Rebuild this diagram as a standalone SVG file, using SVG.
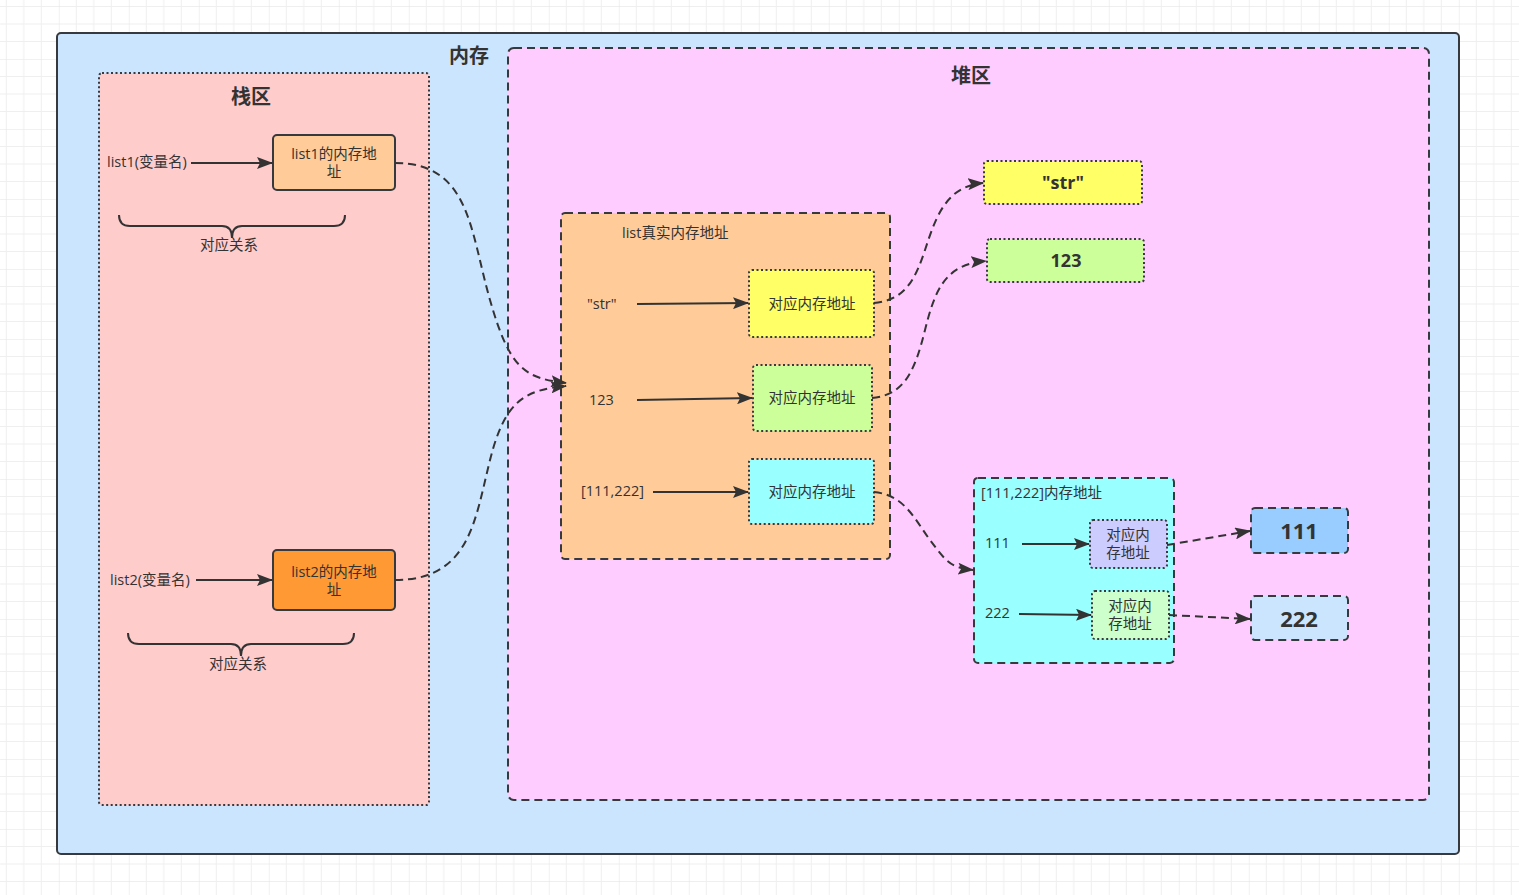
<svg xmlns="http://www.w3.org/2000/svg" width="1519" height="895" viewBox="0 0 1519 895">
<defs>
<pattern id="grid" x="-11.2" y="-11" width="70" height="70" patternUnits="userSpaceOnUse">
<path d="M17.5 0V70M35 0V70M52.5 0V70M0 17.5H70M0 35H70M0 52.5H70" stroke="#efefef" stroke-width="1" fill="none"/>
<path d="M0 0V70M0 0H70" stroke="#e4e4e4" stroke-width="1" fill="none"/>
</pattern>
<marker id="arr" viewBox="0 0 16 12" refX="15" refY="6" markerWidth="16" markerHeight="12" markerUnits="userSpaceOnUse" orient="auto">
<path d="M0 0L16 6L0 12L3 6Z" fill="#333"/>
</marker>
<style>
.t{font-family:"Open Sans","Noto Sans CJK SC",sans-serif;font-size:14.5px;fill:#333}
.c{text-anchor:middle}
.b{font-weight:bold}
.solid{stroke:#36393d;stroke-width:2}
.dash{stroke:#36393d;stroke-width:2;stroke-dasharray:8 5}
.dot{stroke:#36393d;stroke-width:2;stroke-dasharray:2 2.5}
.ln{fill:none;stroke:#333;stroke-width:2}
.dl{fill:none;stroke:#333;stroke-width:2;stroke-dasharray:8 5}
</style>
</defs>
<rect width="1519" height="895" fill="#fff"/>
<rect width="1519" height="895" fill="url(#grid)"/>

<g id="memory">
<rect x="57" y="33" width="1402" height="821" rx="4" fill="#cce5ff" class="solid"/>
<text x="469" y="63" class="t c b" style="font-size:20px">内存</text>
</g>

<g id="stack">
<rect x="99" y="73" width="330" height="732" rx="3" fill="#ffcccc" class="dot"/>
<text x="251" y="104" class="t c b" style="font-size:20px">栈区</text>
</g>

<g id="heap">
<rect x="508" y="48" width="921" height="752" rx="6" fill="#ffccff" class="dash"/>
<text x="971" y="83" class="t c b" style="font-size:20px">堆区</text>
</g>

<g id="list1-label"><text x="107" y="167" class="t">list1(变量名)</text></g>
<g id="list1-addr">
<rect x="273" y="135" width="122" height="55" rx="4" fill="#ffcc99" class="solid"/>
<text x="334" y="159" class="t c">list1的内存地</text>
<text x="334" y="177" class="t c">址</text>
</g>
<g id="brace1">
<path d="M119 215Q119 226 130 226H222Q232 226 232 238Q232 226 242 226H334Q345 226 345 215" class="ln"/>
<text x="229" y="250" class="t c">对应关系</text>
</g>

<g id="list2-label"><text x="110" y="585" class="t">list2(变量名)</text></g>
<g id="list2-addr">
<rect x="273" y="550" width="122" height="60" rx="4" fill="#ff9933" class="solid"/>
<text x="334" y="577" class="t c">list2的内存地</text>
<text x="334" y="595" class="t c">址</text>
</g>
<g id="brace2">
<path d="M128 633Q128 644 139 644H231Q241 644 241 656Q241 644 251 644H343Q354 644 354 633" class="ln"/>
<text x="238" y="669" class="t c">对应关系</text>
</g>

<g id="list-real">
<rect x="561" y="213" width="329" height="346" rx="4" fill="#ffcc99" class="dash"/>
<text x="622" y="238" class="t">list真实内存地址</text>
</g>
<g id="lbl-str"><text x="587" y="309" class="t">"str"</text></g>
<g id="lbl-123"><text x="589" y="405" class="t">123</text></g>
<g id="lbl-list"><text x="581" y="496" class="t">[111,222]</text></g>
<g id="addr-str">
<rect x="749" y="270" width="125" height="67" rx="3" fill="#ffff66" class="dot"/>
<text x="812" y="309" class="t c">对应内存地址</text>
</g>
<g id="addr-123">
<rect x="753" y="365" width="119" height="66" rx="3" fill="#ccff99" class="dot"/>
<text x="812" y="403" class="t c">对应内存地址</text>
</g>
<g id="addr-list">
<rect x="749" y="459" width="125" height="65" rx="3" fill="#99ffff" class="dot"/>
<text x="812" y="497" class="t c">对应内存地址</text>
</g>

<g id="val-str">
<rect x="984" y="161" width="158" height="43" rx="3" fill="#ffff66" class="dot"/>
<text x="1063" y="189" class="t c b" style="font-size:18px">"str"</text>
</g>
<g id="val-123">
<rect x="987" y="239" width="157" height="43" rx="3" fill="#ccff99" class="dot"/>
<text x="1066" y="267" class="t c b" style="font-size:18px">123</text>
</g>

<g id="list-mem">
<rect x="974" y="478" width="200" height="185" rx="4" fill="#99ffff" class="dash"/>
<text x="981" y="498" class="t">[111,222]内存地址</text>
</g>
<g id="lbl-111"><text x="985" y="548" class="t">111</text></g>
<g id="lbl-222"><text x="985" y="618" class="t">222</text></g>
<g id="addr-111">
<rect x="1090" y="520" width="77" height="48" rx="3" fill="#ccccff" class="dot"/>
<text x="1128" y="540" class="t c">对应内</text>
<text x="1128" y="558" class="t c">存地址</text>
</g>
<g id="addr-222">
<rect x="1092" y="591" width="77" height="48" rx="3" fill="#ccffcc" class="dot"/>
<text x="1130" y="611" class="t c">对应内</text>
<text x="1130" y="629" class="t c">存地址</text>
</g>

<g id="val-111">
<rect x="1251" y="508" width="97" height="45" rx="4" fill="#99ccff" class="dash"/>
<text x="1299" y="539" class="t c b" style="font-size:22px">111</text>
</g>
<g id="val-222">
<rect x="1251" y="596" width="97" height="44" rx="4" fill="#cce5ff" class="dash"/>
<text x="1299" y="627" class="t c b" style="font-size:22px">222</text>
</g>

<g id="connectors">
<path d="M191 163H272" class="ln" marker-end="url(#arr)"/>
<path d="M196 580H272" class="ln" marker-end="url(#arr)"/>
<path d="M637 304L748 303" class="ln" marker-end="url(#arr)"/>
<path d="M637 400L752 398" class="ln" marker-end="url(#arr)"/>
<path d="M653 492H748" class="ln" marker-end="url(#arr)"/>
<path d="M1022 544H1089" class="ln" marker-end="url(#arr)"/>
<path d="M1019 614L1091 615" class="ln" marker-end="url(#arr)"/>
<path d="M395 163C470 163 470 230 490 300S525 378 566 383" class="dl" marker-end="url(#arr)"/>
<path d="M395 580C470 580 475 520 490 460S525 390 566 386" class="dl" marker-end="url(#arr)"/>
<path d="M874 303C905 300 915 280 925 250S945 186 983 183" class="dl" marker-end="url(#arr)"/>
<path d="M872 398C905 395 915 370 925 330S945 264 986 261" class="dl" marker-end="url(#arr)"/>
<path d="M874 492C905 495 915 520 930 540S950 568 973 570" class="dl" marker-end="url(#arr)"/>
<path d="M1167 545L1250 531" class="dl" marker-end="url(#arr)"/>
<path d="M1169 615L1250 619" class="dl" marker-end="url(#arr)"/>
</g>
</svg>
